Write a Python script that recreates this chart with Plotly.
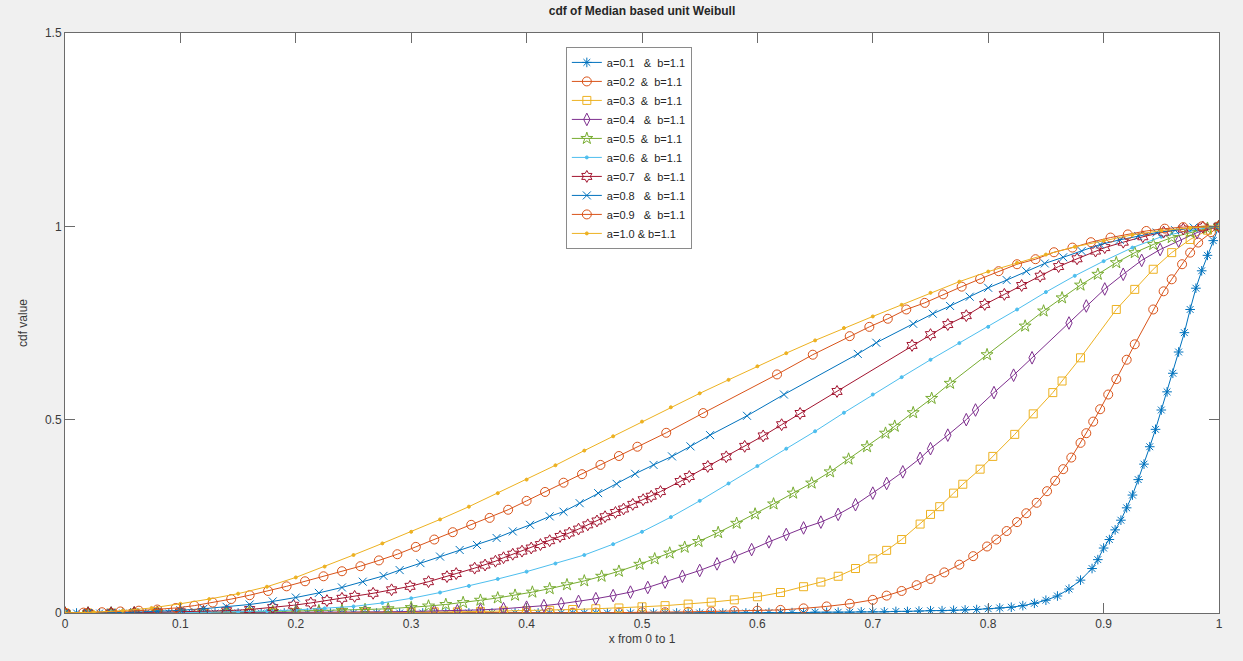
import plotly.graph_objects as go

# ---------------- data ----------------
x_a01 = [0.00,0.01,0.02,0.03,0.04,0.05,0.06,0.07,0.08,0.09,
         0.10,0.11,0.12,0.13,0.14,0.15,0.16,0.17,0.18,0.19,
         0.20,0.21,0.22,0.23,0.24,0.25,0.26,0.27,0.28,0.29,
         0.30,0.31,0.32,0.33,0.34,0.35,0.36,0.37,0.38,0.39,
         0.40,0.41,0.42,0.43,0.44,0.45,0.46,0.47,0.48,0.49,
         0.50,0.51,0.52,0.53,0.54,0.55,0.56,0.57,0.58,0.59,
         0.60,0.61,0.62,0.63,0.64,0.65,0.66,0.67,0.68,0.69,
         0.70,0.71,0.72,0.73,0.74,0.75,0.76,0.77,0.78,0.79,
         0.80,0.81,0.82,0.83,0.84,0.85,0.86,0.87,0.88,0.89,
         0.895,0.900,0.905,0.910,0.915,0.920,0.925,0.930,0.935,0.940,0.945,
         0.950,0.955,0.960,0.965,0.970,0.975,0.980,0.985,0.990,0.995,1.000]
y_a01 = [0,0,0,0,0,0,0,0,0,0,
         0,0,0,0,0,0,0,0,0,0,
         0,0,0,0,0,0,0,0,0,0,
         0,0,0,0,0,0,0,0,0,0,
         0,0,0,0,0,0,0,0,0,0,
         0,0,0,0,0,0,0,0,0,0,
         0.001,0.001,0.001,0.001,0.001,0.002,0.002,0.002,0.002,0.003,
         0.003,0.003,0.004,0.004,0.005,0.006,0.006,0.007,0.008,0.009,
         0.011,0.013,0.015,0.019,0.025,0.033,0.044,0.062,0.085,0.115,
         0.138,0.168,0.190,0.215,0.240,0.272,0.305,0.345,0.385,0.430,0.475,
         0.525,0.572,0.620,0.675,0.725,0.785,0.840,0.885,0.925,0.963,1.000]

x_a02 = [0.00,0.02,0.04,0.06,0.08,0.10,0.12,0.14,0.16,0.18,
         0.20,0.22,0.24,0.26,0.28,0.30,0.32,0.34,0.36,0.38,
         0.40,0.42,0.44,0.46,0.48,0.50,0.52,0.54,0.56,0.58,
         0.60,0.62,0.64,0.66,0.68,0.70,
         0.712,0.725,0.738,0.750,0.762,0.775,0.787,0.799,0.807,0.816,
         0.825,0.833,0.842,0.851,0.858,0.865,0.872,0.880,0.885,0.891,
         0.897,0.904,0.911,0.920,0.927,0.943,0.952,0.959,0.968,0.975,
         0.982,0.993,1.000]
y_a02 = [0,0,0,0,0,0,0,0,0,0,
         0,0,0,0,0,0,0,0,0,0,
         0.001,0.001,0.001,0.001,0.001,0.002,0.002,0.003,0.004,0.005,
         0.006,0.008,0.012,0.017,0.024,0.034,
         0.045,0.057,0.072,0.088,0.105,0.125,0.147,0.172,0.190,0.212,
         0.235,0.258,0.285,0.315,0.342,0.372,0.402,0.440,0.465,0.495,
         0.527,0.565,0.605,0.655,0.695,0.785,0.832,0.863,0.902,0.932,
         0.958,0.985,1.000]

x_a03 = [0.00,0.02,0.04,0.06,0.08,0.10,0.12,0.14,0.16,0.18,
         0.20,0.22,0.24,0.26,0.28,0.30,0.32,0.34,0.36,0.38,
         0.40,0.42,0.44,0.46,0.48,0.50,0.52,0.54,0.56,0.58,
         0.60,0.62,0.64,
         0.655,0.670,0.685,0.700,0.712,0.725,0.741,0.750,0.758,0.770,
         0.778,0.793,0.804,0.823,0.839,0.856,0.864,0.880,0.911,0.927,
         0.943,0.959,0.975,0.990,1.000]
y_a03 = [0,0,0,0,0,0,0,0,0.001,0.001,
         0.001,0.001,0.001,0.002,0.002,0.002,0.003,0.003,0.004,0.005,
         0.006,0.007,0.009,0.011,0.013,0.016,0.019,0.023,0.028,0.034,
         0.042,0.053,0.068,
         0.080,0.095,0.115,0.140,0.162,0.190,0.230,0.255,0.275,0.310,
         0.333,0.372,0.405,0.462,0.515,0.570,0.600,0.660,0.785,0.837,
         0.889,0.932,0.966,0.990,1.000]

x_a04 = [0.00,0.02,0.04,0.06,0.08,0.10,0.12,0.14,0.16,0.18,
         0.20,0.22,0.24,0.26,0.28,0.30,0.32,0.34,0.36,0.38,
         0.400,0.415,0.430,0.445,0.460,0.475,0.490,0.505,0.520,0.535,
         0.550,0.565,0.580,0.595,0.610,0.625,0.640,0.655,0.670,0.685,
         0.700,0.712,0.726,0.741,0.750,0.765,0.781,0.789,0.805,0.822,
         0.838,0.870,0.885,0.901,0.917,0.933,0.949,0.965,0.981,1.000]
y_a04 = [0,0,0,0,0,0,0.001,0.001,0.001,0.001,
         0.002,0.002,0.002,0.003,0.003,0.004,0.005,0.006,0.008,0.011,
         0.015,0.019,0.024,0.030,0.037,0.045,0.054,0.066,0.080,0.095,
         0.110,0.127,0.145,0.164,0.184,0.203,0.220,0.235,0.255,0.280,
         0.310,0.335,0.365,0.400,0.425,0.460,0.500,0.525,0.570,0.615,
         0.660,0.750,0.794,0.838,0.876,0.912,0.940,0.962,0.984,1.000]

x_a05 = [0.00,0.02,0.04,0.06,0.08,0.10,0.12,0.14,0.16,0.18,
         0.20,0.22,0.24,0.26,0.28,0.30,0.315,0.330,0.345,0.360,
         0.375,0.390,0.405,0.420,0.435,0.450,0.465,0.480,0.498,0.511,
         0.524,0.537,0.549,0.566,0.582,0.598,0.614,0.631,0.647,0.663,
         0.679,0.695,0.711,0.719,0.735,0.751,0.767,0.799,0.832,0.848,
         0.864,0.880,0.895,0.911,0.927,0.943,0.959,0.975,0.990,1.000]
y_a05 = [0,0,0,0,0.001,0.001,0.002,0.002,0.003,0.004,
         0.005,0.006,0.007,0.009,0.011,0.014,0.018,0.022,0.027,0.033,
         0.039,0.046,0.054,0.063,0.073,0.083,0.095,0.108,0.126,0.140,
         0.155,0.170,0.185,0.208,0.232,0.256,0.282,0.310,0.336,0.365,
         0.398,0.430,0.465,0.483,0.518,0.555,0.594,0.668,0.742,0.781,
         0.815,0.848,0.876,0.906,0.932,0.953,0.971,0.984,0.995,1.000]

x_a06 = [0.000,0.025,0.050,0.075,0.100,0.125,0.150,0.175,0.200,0.225,
         0.250,0.275,0.300,0.325,0.350,0.375,0.400,0.425,0.450,0.475,
         0.500,0.525,0.550,0.575,0.600,0.625,0.650,0.675,0.700,0.725,
         0.750,0.775,0.800,0.825,0.850,0.875,0.900,0.925,0.950,0.975,1.000]
y_a06 = [0,0,0,0,0.001,0.002,0.003,0.005,0.008,0.012,
         0.017,0.026,0.038,0.053,0.070,0.088,0.107,0.128,0.150,0.178,
         0.210,0.248,0.290,0.335,0.380,0.425,0.470,0.518,0.565,0.610,
         0.655,0.698,0.740,0.785,0.830,0.872,0.910,0.945,0.973,0.990,1.000]

x_a07 = [0.00,0.02,0.04,0.06,0.08,0.10,0.12,0.14,0.16,0.18,
         0.198,0.213,0.227,0.240,0.251,0.267,0.283,0.299,0.315,0.331,
         0.339,0.355,0.364,0.373,0.380,0.388,0.396,0.404,0.412,0.420,
         0.429,0.437,0.445,0.453,0.461,0.468,0.477,0.484,0.492,0.501,
         0.508,0.516,0.533,0.541,0.557,0.573,0.589,0.605,0.621,0.637,
         0.669,0.734,0.750,0.765,0.781,0.797,0.814,0.829,0.845,0.861,
         0.877,0.893,0.901,0.917,0.934,0.952,0.969,0.986,1.000]
y_a07 = [0,0,0,0.001,0.002,0.003,0.004,0.006,0.009,0.014,
         0.020,0.026,0.032,0.038,0.043,0.051,0.060,0.069,0.081,0.094,
         0.102,0.116,0.124,0.134,0.143,0.152,0.160,0.168,0.177,0.187,
         0.198,0.207,0.217,0.228,0.238,0.249,0.260,0.269,0.281,0.293,
         0.302,0.314,0.340,0.353,0.379,0.404,0.431,0.458,0.487,0.516,
         0.573,0.692,0.720,0.746,0.769,0.798,0.824,0.847,0.871,0.896,
         0.916,0.936,0.945,0.959,0.973,0.985,0.993,0.998,1.000]

x_a08 = [0.00,0.02,0.04,0.06,0.08,0.10,0.12,0.14,0.16,0.18,
         0.200,0.220,0.240,0.258,0.276,0.290,0.308,0.325,0.342,0.357,
         0.374,0.388,0.403,0.420,0.432,0.446,0.462,0.478,0.494,0.510,
         0.526,0.542,0.559,0.591,0.623,0.687,0.703,0.735,0.752,0.767,
         0.784,0.800,0.816,0.833,0.849,0.865,0.881,0.897,0.914,0.930,
         0.946,0.962,0.978,1.000]
y_a08 = [0,0,0.001,0.002,0.004,0.007,0.011,0.016,0.022,0.030,
         0.040,0.052,0.066,0.081,0.096,0.111,0.129,0.146,0.163,0.176,
         0.194,0.211,0.228,0.250,0.262,0.284,0.310,0.334,0.360,0.383,
         0.405,0.431,0.460,0.510,0.565,0.670,0.699,0.748,0.774,0.794,
         0.818,0.841,0.861,0.884,0.904,0.920,0.936,0.953,0.965,0.975,
         0.984,0.990,0.997,1.000]

x_a09 = [0.000,0.016,0.032,0.048,0.064,0.080,0.096,0.112,0.128,0.144,
         0.160,0.176,0.192,0.208,0.224,0.240,0.256,0.272,0.288,0.304,
         0.320,0.336,0.352,0.368,0.384,0.400,0.416,0.432,0.448,0.464,
         0.480,0.496,0.521,0.553,0.617,0.648,0.680,0.697,0.713,0.729,
         0.745,0.761,0.777,0.793,0.809,0.825,0.841,0.857,0.873,0.889,
         0.906,0.921,0.937,0.953,0.969,0.985,1.000]
y_a09 = [0,0.001,0.002,0.004,0.006,0.009,0.013,0.019,0.027,0.036,
         0.046,0.057,0.069,0.082,0.095,0.108,0.121,0.136,0.152,0.171,
         0.190,0.209,0.228,0.246,0.267,0.290,0.313,0.337,0.359,0.383,
         0.406,0.430,0.466,0.517,0.617,0.668,0.716,0.740,0.761,0.785,
         0.802,0.824,0.844,0.864,0.884,0.902,0.915,0.933,0.945,0.959,
         0.971,0.979,0.988,0.994,0.998,1.000,1.000]

x_a10 = [0.000,0.025,0.050,0.075,0.100,0.125,0.150,0.175,0.200,0.225,
         0.250,0.275,0.300,0.325,0.350,0.375,0.400,0.425,0.450,0.475,
         0.500,0.525,0.550,0.575,0.600,0.625,0.650,0.675,0.700,0.725,
         0.750,0.775,0.800,0.825,0.850,0.875,0.900,0.925,0.950,0.975,1.000]
y_a10 = [0,0.002,0.006,0.013,0.024,0.036,0.050,0.068,0.092,0.120,
         0.150,0.180,0.210,0.242,0.275,0.310,0.345,0.382,0.420,0.457,
         0.495,0.532,0.568,0.603,0.638,0.672,0.705,0.737,0.767,0.797,
         0.828,0.857,0.883,0.906,0.927,0.947,0.963,0.978,0.989,0.996,1.000]

series_names = ["a=0.1\u00a0\u00a0 &\u00a0 b=1.1", "a=0.2\u00a0 &\u00a0 b=1.1",
                "a=0.3\u00a0 &\u00a0 b=1.1", "a=0.4\u00a0\u00a0 &\u00a0 b=1.1",
                "a=0.5\u00a0 &\u00a0 b=1.1", "a=0.6\u00a0 &\u00a0 b=1.1",
                "a=0.7\u00a0\u00a0 &\u00a0 b=1.1", "a=0.8\u00a0\u00a0 &\u00a0 b=1.1",
                "a=0.9\u00a0\u00a0 &\u00a0 b=1.1", "a=1.0 & b=1.1"]
series_x = [x_a01, x_a02, x_a03, x_a04, x_a05, x_a06, x_a07, x_a08, x_a09, x_a10]
series_y = [y_a01, y_a02, y_a03, y_a04, y_a05, y_a06, y_a07, y_a08, y_a09, y_a10]

x_tick_vals = [0, 0.1, 0.2, 0.3, 0.4, 0.5, 0.6, 0.7, 0.8, 0.9, 1]
x_tick_text = ["0", "0.1", "0.2", "0.3", "0.4", "0.5", "0.6", "0.7", "0.8", "0.9", "1"]
y_tick_vals = [0, 0.5, 1, 1.5]
y_tick_text = ["0", "0.5", "1", "1.5"]

# ---------------- styling ----------------
colors = ["#0072BD", "#D95319", "#EDB120", "#7E2F8E", "#77AC30",
          "#4DBEEE", "#A2142F", "#0072BD", "#D95319", "#EDB120"]
symbols = ["asterisk-open", "circle-open", "square-open", "diamond-tall-open", "star-open",
           "circle", "hexagram-open", "x-thin-open", "circle-open", "circle"]
sizes = [8, 9, 8, 9, 9, 3, 9, 8, 9, 3]

fig = go.Figure()
for xs, ys, nm, c, s, sz in zip(series_x, series_y, series_names, colors, symbols, sizes):
    assert len(xs) == len(ys), nm
    fig.add_trace(go.Scatter(
        x=xs, y=ys, name=nm, mode="lines+markers",
        line=dict(color=c, width=1),
        marker=dict(symbol=s, size=sz, color=c, line=dict(color=c, width=1)),
    ))

FONT = "Arial, 'Liberation Sans', Helvetica, sans-serif"
axis_common = dict(
    showline=True, linecolor="#6b6b6b", linewidth=1, mirror="ticks",
    ticks="inside", ticklen=10, tickcolor="#6b6b6b", tickwidth=1,
    showgrid=False, zeroline=False,
    tickfont=dict(family=FONT, size=12, color="#3a3a3a"),
)

fig.update_layout(
    width=1243, height=661,
    paper_bgcolor="#f0f0f0", plot_bgcolor="white",
    margin=dict(l=65, r=24, t=33, b=48),
    font=dict(family=FONT, size=12, color="#262626"),
    title=dict(text="<b>cdf of Median based unit Weibull</b>",
               x=0.5, xref="paper", y=1 - 11 / 661, yref="container",
               xanchor="center", yanchor="middle",
               font=dict(family=FONT, size=12, color="#262626")),
    xaxis=dict(range=[0, 1], tickvals=x_tick_vals, ticktext=x_tick_text,
               title=dict(text="x from 0 to 1", standoff=4,
                          font=dict(family=FONT, size=12, color="#3a3a3a")),
               **axis_common),
    yaxis=dict(range=[0, 1.5], tickvals=y_tick_vals, ticktext=y_tick_text,
               title=dict(text="cdf value", standoff=14,
                          font=dict(family=FONT, size=12, color="#3a3a3a")),
               **axis_common),
    legend=dict(x=0.434, y=0.976, xanchor="left", yanchor="top",
                bgcolor="white", bordercolor="#8a8a8a", borderwidth=1,
                font=dict(family=FONT, size=11, color="#262626"),
                itemwidth=30, tracegroupgap=0),
    showlegend=True,
)

fig.write_html(
    "out.html",
    config={"displayModeBar": False},
    post_script="document.body.style.margin='0';document.body.style.background='#f0f0f0';",
)
